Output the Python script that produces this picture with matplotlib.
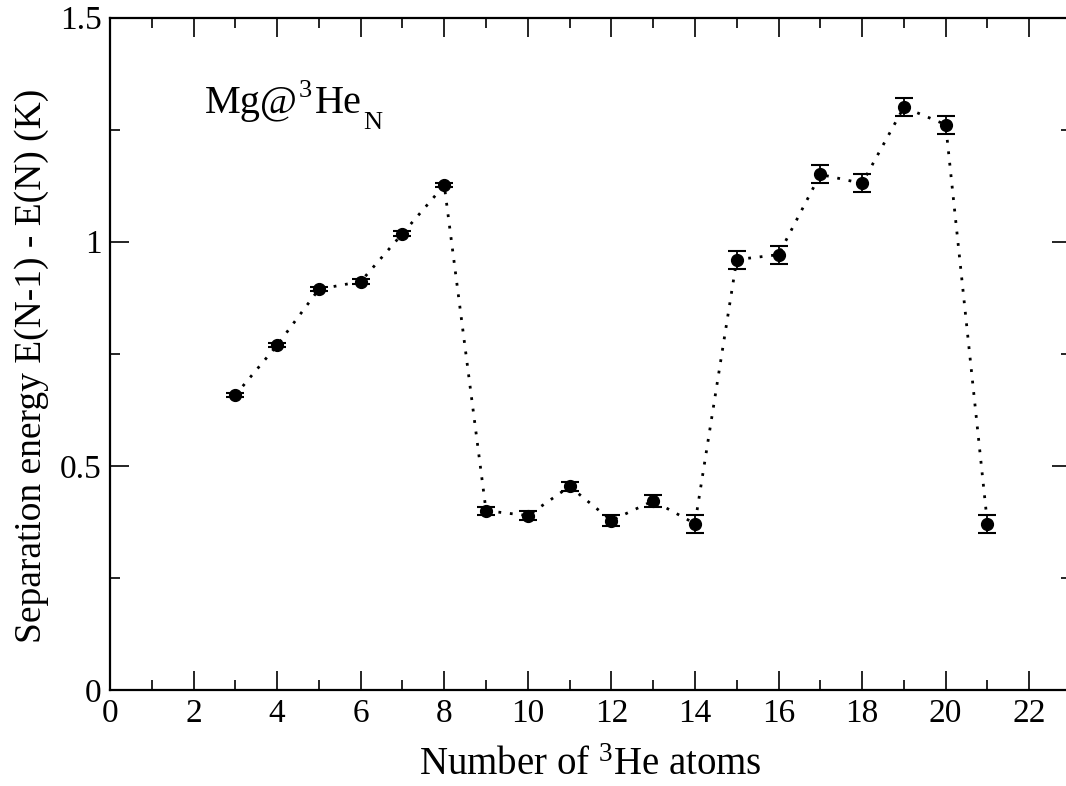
import matplotlib
matplotlib.use("Agg")
import matplotlib.pyplot as plt
from matplotlib.ticker import MultipleLocator

plt.rcParams['font.family'] = ['Liberation Serif', 'DejaVu Serif']
plt.rcParams['mathtext.fontset'] = 'custom'
plt.rcParams['mathtext.rm'] = 'Liberation Serif'
plt.rcParams['mathtext.it'] = 'Liberation Serif'

n_atoms = [3, 4, 5, 6, 7, 8, 9, 10, 11, 12, 13, 14, 15, 16, 17, 18, 19, 20, 21]
sep_energy = [0.658, 0.769, 0.894, 0.911, 1.018, 1.126, 0.400, 0.389, 0.454,
              0.378, 0.422, 0.371, 0.960, 0.971, 1.150, 1.130, 1.300, 1.261, 0.371]
sep_err = [0.004, 0.005, 0.005, 0.005, 0.005, 0.005, 0.009, 0.010, 0.011,
           0.012, 0.014, 0.020, 0.020, 0.020, 0.020, 0.020, 0.020, 0.020, 0.020]

fig = plt.figure(figsize=(10.66, 7.86), dpi=100)
ax = fig.add_axes([110/1066, 96/786, 961/1066, 672.5/786])

ax.plot(n_atoms, sep_energy, color='black', lw=2.0, linestyle=(0, (1, 3.15)), zorder=2)
ax.errorbar(n_atoms, sep_energy, yerr=sep_err, fmt='o', color='black', ms=8.5,
            capsize=6.8, elinewidth=1.3, capthick=1.5, zorder=3)

ax.set_xlim(0, 23)
ax.set_ylim(0, 1.5)
ax.xaxis.set_major_locator(MultipleLocator(2))
ax.xaxis.set_minor_locator(MultipleLocator(1))
ax.yaxis.set_minor_locator(MultipleLocator(0.25))
ax.set_yticks([0, 0.5, 1, 1.5])
ax.set_yticklabels(['0', '0.5', '1', '1.5'])
ax.tick_params(which='both', direction='in', top=True, right=True, labelsize=24, width=1.2)
ax.tick_params(which='major', length=14)
ax.tick_params(which='minor', length=7)
ax.tick_params(axis='x', pad=6)
ax.tick_params(axis='y', pad=6)
for s in ax.spines.values():
    s.set_linewidth(1.6)

ax.set_xlabel(r'Number of $^{3}$He atoms', fontsize=28)
ax.xaxis.label.set_va('baseline')
ax.xaxis.set_label_coords(0.5, -0.1265)
ax.set_ylabel('Separation energy E(N-1) - E(N) (K)', fontsize=27)
ax.yaxis.set_label_coords(-0.063, 0.482)

# Mg@3He_N label built from pieces
base_y = 1.287
t1 = ax.text(2.26, base_y, 'Mg@', fontsize=29, ha='left', va='baseline')
t2 = ax.annotate('3', xy=(1, base_y), xycoords=(t1, 'data'), xytext=(1.0, 11.5),
                 textcoords='offset points', fontsize=19, ha='left', va='baseline')
t3 = ax.annotate('He', xy=(1, base_y), xycoords=(t2, 'data'), xytext=(2.0, 0),
                 textcoords='offset points', fontsize=29, ha='left', va='baseline')
t4 = ax.annotate('N', xy=(1, base_y), xycoords=(t3, 'data'), xytext=(1.5, -11.5),
                 textcoords='offset points', fontsize=19, ha='left', va='baseline')

fig.savefig('out.png', dpi=100)
